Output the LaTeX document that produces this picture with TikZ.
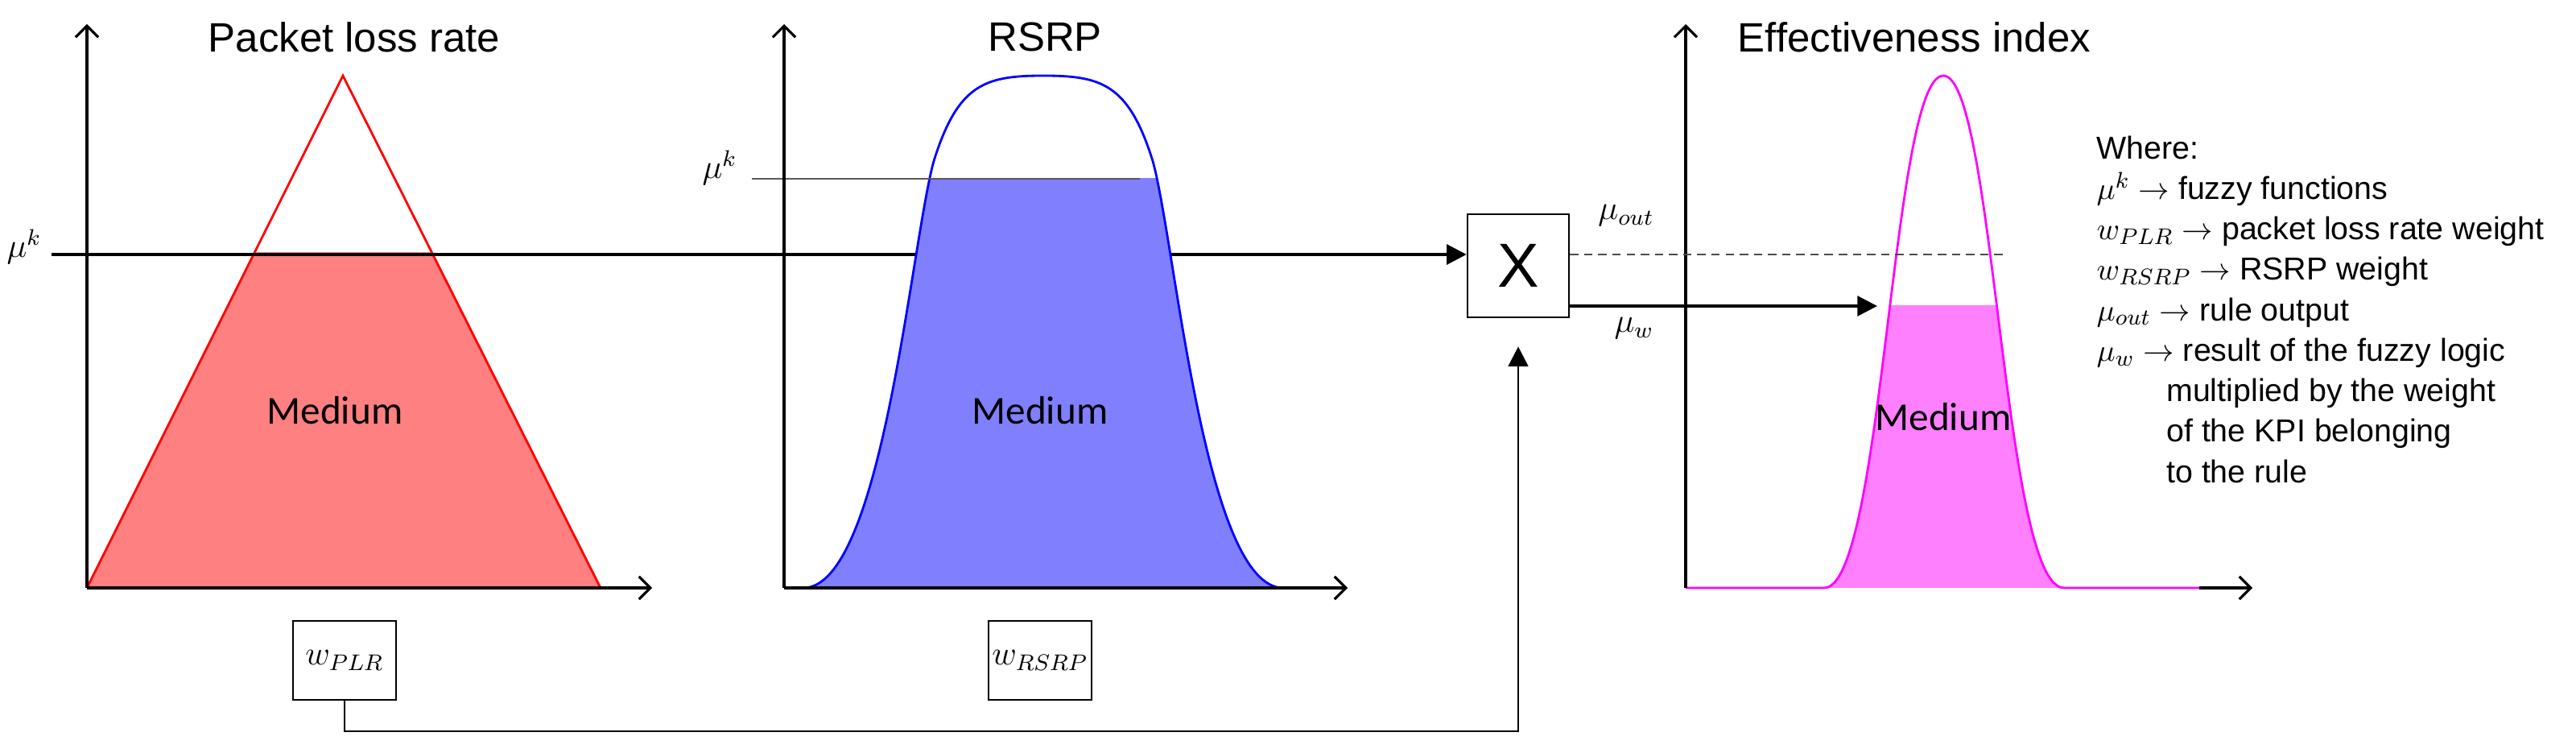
\documentclass[tikz,border=0pt]{standalone}
\usepackage{fontspec}
\setmainfont{Liberation Sans}
\newfontfamily\calib{Carlito}
\usetikzlibrary{arrows.meta}
\definecolor{rf}{RGB}{255,128,128}
\definecolor{bf}{RGB}{128,128,255}
\definecolor{mf}{RGB}{255,128,255}
\definecolor{ml}{RGB}{255,0,255}
\begin{document}
\begin{tikzpicture}[x=0.02cm,y=-0.02cm,
  ax/.style={line width=0.9pt,-{Straight Barb[length=4pt,width=8pt]}},
  ar/.style={line width=1.1pt,-{Triangle[length=7pt,width=7pt]}},
  ttl/.style={font=\fontsize{14.5}{16}\selectfont},
  lbl/.style={font=\calib\fontsize{14}{16}\selectfont},
  mth/.style={font=\fontsize{12}{14}\selectfont},
  bx/.style={draw,line width=0.7pt,fill=white,inner sep=0pt}]
\useasboundingbox (0,0) rectangle (1600,467.5);
% panel 1
\begin{scope}
\clip (0,157) rectangle (500,366);
\fill[rf] (54,365) -- (213,47) -- (373,365) -- cycle;
\end{scope}
\draw[red,line width=0.8pt] (54,365) -- (213,47) -- (373,365);
\draw[ax] (54,365) -- (54,15);
\draw[ax] (54,365) -- (405,365);
\node[ttl] (t1) at (220,23) {Packet loss rate};
\node[lbl] (m1) at (208,255) {Medium};
\node[mth] (mk1) at (15,153) {$\mu^k$};
\node[bx,minimum width=1.26cm,minimum height=1.28cm,font=\fontsize{22}{22}\selectfont] (X) at (943,165) {X};
\coordinate (a1) at (32,158);
\draw[ar] (a1) -- (X.west |- a1);
\node[bx,minimum width=1.28cm,minimum height=0.98cm,mth] (wplr) at (214,410) {$w_{PLR}$};
\node[bx,minimum width=1.28cm,minimum height=0.98cm,mth] (wrsrp) at (646,410) {$w_{RSRP}$};
\coordinate (c2) at (943,454);
\draw[ar,line width=0.8pt] (wplr.south) |- (c2) -- ([yshift=-10]X.south);
% panel 2
\def\rsrp{(487,365) -- (499,365) .. controls (548,365) and (566,150) .. (580,100) .. controls (595,52) and (612,47) .. (648,47) .. controls (684,47) and (701,52) .. (716,100) .. controls (730,150) and (748,365) .. (797,365) -- (802,365)}
\begin{scope}
\clip (400,111) rectangle (850,366);
\fill[bf] \rsrp -- cycle;
\end{scope}
\draw[blue,line width=0.8pt] \rsrp;
\draw[gray!70!black,line width=0.8pt] (467,111) -- (708,111);
\node[mth] (mk2) at (447,104) {$\mu^k$};
\draw[ax] (487,365) -- (487,15);
\draw[ax] (487,365) -- (837,365);
\node[ttl] (t2) at (649,23) {RSRP};
\node[lbl] (m2) at (646,255) {Medium};
% panel 3
\def\eff{(1047,365) -- (1133,365) .. controls (1170,365) and (1175,47) .. (1207,47) .. controls (1239,47) and (1244,365) .. (1282,365) -- (1366,365)}
\begin{scope}
\clip (1000,190) rectangle (1400,366);
\fill[mf] \eff -- cycle;
\end{scope}
\draw[ml,line width=0.8pt] \eff;
\draw[ax] (1047,365) -- (1047,15);
\draw[line width=0.9pt,-{Straight Barb[length=4pt,width=8pt]}] (1366,365) -- (1399,365);
\coordinate (d1) at (1244,158);
\draw[densely dashed,gray!60!black,line width=0.6pt] (X.east |- d1) -- (d1);
\coordinate (w1) at (1166,190);
\draw[ar] (X.east |- w1) -- (w1);
\node[mth] (mout) at (1010,134) {$\mu_{out}$};
\node[mth] (mw) at (1015,204) {$\mu_w$};
\node[ttl] (t3) at (1189,23) {Effectiveness index};
\node[lbl] (m3) at (1207,259) {Medium};
% legend
\node[anchor=north west,align=left,inner sep=0pt,font=\fontsize{11.2}{14.3}\selectfont] (leg) at (1302,84) {Where:\\
$\mu^k\rightarrow$ fuzzy functions\\
$w_{PLR}\rightarrow$ packet loss rate weight\\
$w_{RSRP}\rightarrow$ RSRP weight\\
$\mu_{out}\rightarrow$ rule output\\
$\mu_w\rightarrow$ result of the fuzzy logic\\
\hspace*{2.2em}multiplied by the weight\\
\hspace*{2.2em}of the KPI belonging\\
\hspace*{2.2em}to the rule};
\end{tikzpicture}
\end{document}
